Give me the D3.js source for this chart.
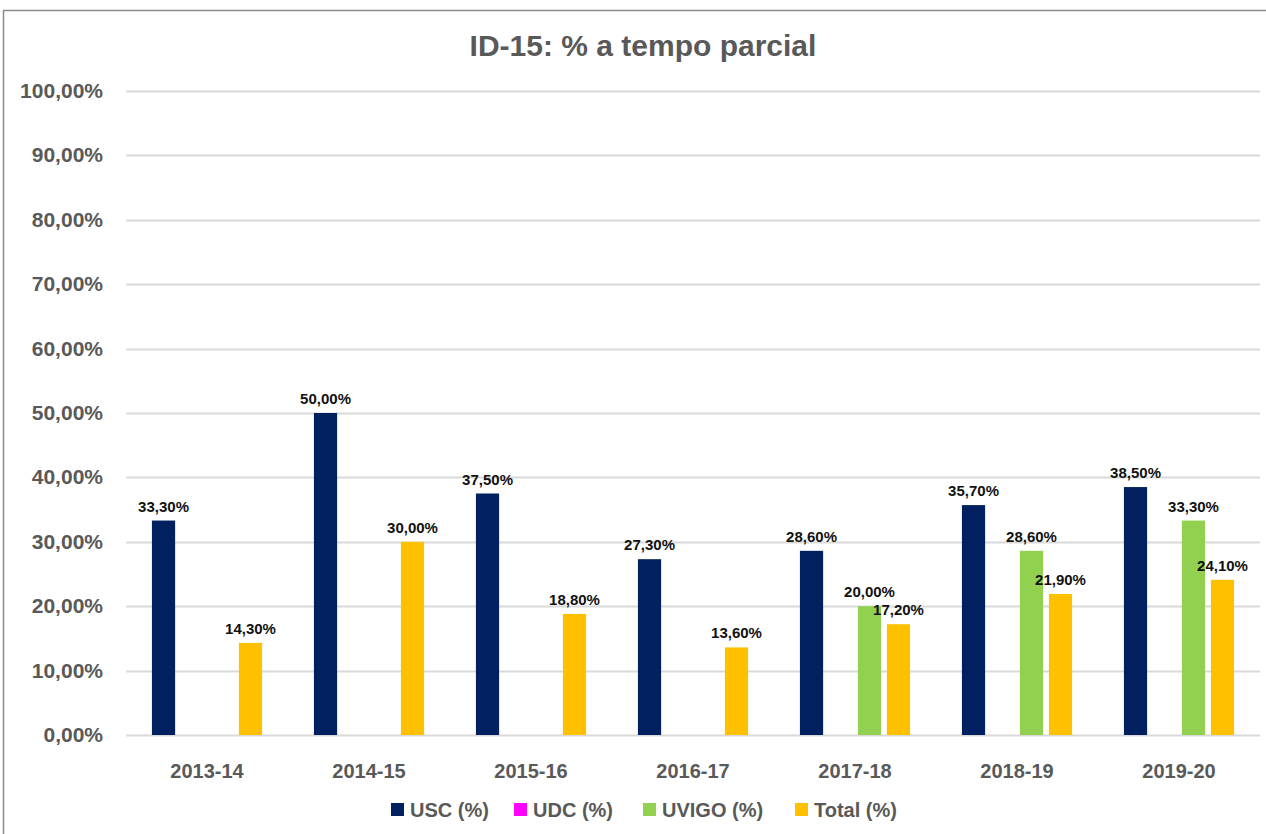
<!DOCTYPE html>
<html>
<head>
<meta charset="utf-8">
<script src="https://cdnjs.cloudflare.com/ajax/libs/d3/7.8.5/d3.min.js"></script>
<style>
    body { margin: 0; background: #fff; }
    svg { display: block; font-family: 'Liberation Sans', Arial, sans-serif; }
</style>
</head>
<body>
<div id="chart"></div>
<script>
const categories = ['2013-14', '2014-15', '2015-16', '2016-17', '2017-18', '2018-19', '2019-20'];
const seriesNames = ['USC (%)', 'UDC (%)', 'UVIGO (%)', 'Total (%)'];
const seriesColors = ['#002060', '#ff00ff', '#92d050', '#ffc000'];
const uscValues = [33.3, 50.0, 37.5, 27.3, 28.6, 35.7, 38.5];
const udcValues = [null, null, null, null, null, null, null];
const uvigoValues = [null, null, null, null, 20.0, 28.6, 33.3];
const totalValues = [14.3, 30.0, 18.8, 13.6, 17.2, 21.9, 24.1];
const yTicks = [0, 10, 20, 30, 40, 50, 60, 70, 80, 90, 100];

document.addEventListener('DOMContentLoaded', () => {
    const width = 1266, height = 834;
    const margin = { top: 91, right: 6, bottom: 99, left: 126 };
    const seriesValues = [uscValues, udcValues, uvigoValues, totalValues];
    const fmt = v => v.toFixed(2).replace('.', ',') + '%';

    const svg = d3.select('#chart').append('svg')
        .attr('width', width)
        .attr('height', height);

    // chart frame (only left and top edges visible in the picture)
    svg.append('rect')
        .attr('x', 3.5).attr('y', 10.5)
        .attr('width', 1280).attr('height', 840)
        .attr('fill', 'none')
        .attr('stroke', '#8c8c8c')
        .attr('stroke-width', 1.5);

    const x0 = d3.scaleBand()
        .domain(categories)
        .range([margin.left, width - margin.right])
        .paddingInner(0.32)
        .paddingOuter(0.16);

    const x1 = d3.scaleBand()
        .domain(seriesNames)
        .range([0, x0.bandwidth()])
        .paddingInner(0.2);

    const y = d3.scaleLinear()
        .domain([0, 100])
        .range([height - margin.bottom, margin.top]);

    // gridlines
    svg.append('g')
        .selectAll('line')
        .data(yTicks)
        .enter().append('line')
        .attr('x1', margin.left)
        .attr('x2', width - margin.right)
        .attr('y1', d => Math.round(y(d)) + 0.5)
        .attr('y2', d => Math.round(y(d)) + 0.5)
        .attr('stroke', '#d9d9d9')
        .attr('stroke-width', 2);

    // y tick labels
    svg.append('g')
        .selectAll('text')
        .data(yTicks)
        .enter().append('text')
        .attr('x', 103)
        .attr('y', d => y(d) + 7)
        .attr('text-anchor', 'end')
        .attr('font-size', 21)
        .attr('font-weight', 'bold')
        .attr('fill', '#595959')
        .text(d => fmt(d));

    // bars
    const groups = svg.append('g')
        .selectAll('g')
        .data(categories)
        .enter().append('g')
        .attr('transform', d => `translate(${x0(d)},0)`);

    const cells = groups.selectAll('g')
        .data((c, i) => seriesNames.map((s, j) => ({ series: s, color: seriesColors[j], value: seriesValues[j][i] }))
            .filter(d => d.value !== null))
        .enter().append('g');

    cells.append('rect')
        .attr('x', d => x1(d.series))
        .attr('y', d => y(d.value))
        .attr('width', x1.bandwidth())
        .attr('height', d => y(0) - y(d.value))
        .attr('fill', d => d.color);

    cells.append('text')
        .attr('x', d => x1(d.series) + x1.bandwidth() / 2)
        .attr('y', d => y(d.value) - 9)
        .attr('text-anchor', 'middle')
        .attr('font-size', 15)
        .attr('font-weight', 'bold')
        .attr('fill', '#111')
        .text(d => fmt(d.value));

    // x labels
    svg.append('g')
        .selectAll('text')
        .data(categories)
        .enter().append('text')
        .attr('x', d => x0(d) + x0.bandwidth() / 2)
        .attr('y', 778)
        .attr('text-anchor', 'middle')
        .attr('font-size', 20)
        .attr('font-weight', 'bold')
        .attr('fill', '#595959')
        .text(d => d);

    // title
    svg.append('text')
        .attr('x', 643)
        .attr('y', 56)
        .attr('text-anchor', 'middle')
        .attr('font-size', 30)
        .attr('font-weight', 'bold')
        .attr('fill', '#595959')
        .text('ID-15: % a tempo parcial');

    // legend
    const legendX = [391, 514, 643, 795];
    const legend = svg.append('g')
        .selectAll('g')
        .data(seriesNames)
        .enter().append('g')
        .attr('transform', (d, i) => `translate(${legendX[i]},810)`);

    legend.append('rect')
        .attr('x', 0).attr('y', -7)
        .attr('width', 13).attr('height', 13)
        .attr('fill', (d, i) => seriesColors[i]);

    legend.append('text')
        .attr('x', 19)
        .attr('y', 7)
        .attr('font-size', 20)
        .attr('font-weight', 'bold')
        .attr('fill', '#595959')
        .text(d => d);
});
</script>
</body>
</html>
